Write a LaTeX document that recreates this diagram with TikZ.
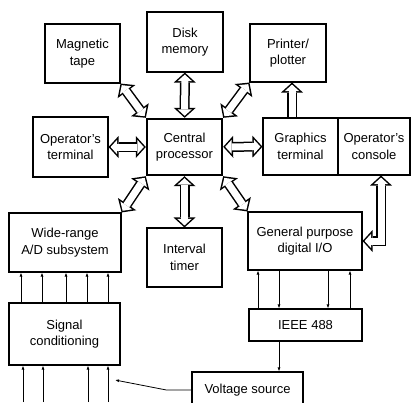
\documentclass[tikz,border=0pt]{standalone}
\usepackage{fontspec}
\setmainfont{Liberation Sans}
\usetikzlibrary{arrows.meta}

\begin{document}
\begin{tikzpicture}[x=1pt, y=-1pt,
    every node/.style={draw, line width=1.1pt, align=center, inner sep=1pt,
      font=\fontsize{13}{16.5}\selectfont},
    bushead/.tip={Triangle[length=10pt, width=22pt, line width=0pt]},
    businner/.tip={Triangle[length=6.5pt, width=14.2pt, line width=0pt]},
    bus/.style={line width=10pt, {bushead}-{bushead},
      postaction={draw=white, line width=7pt, {businner}-{businner},
        shorten <=2pt, shorten >=2pt}},
    busup/.style={line width=10pt, {bushead}-,
      postaction={draw=white, line width=7pt, {businner}-, shorten <=2pt}},
    wire/.style={line width=0.8pt, -{Latex[length=4pt, width=3pt]}}]
    \useasboundingbox (0,0) rectangle (411,402);
    \clip (0,0) rectangle (411,402);
    \node[minimum width=75pt, minimum height=59pt] (tape) at (82.5,53.5) {Magnetic\\tape};
    \node[minimum width=76pt, minimum height=60pt] (disk) at (185,42) {Disk\\memory};
    \node[minimum width=76pt, minimum height=58pt] (printer) at (288,53) {Printer/\\plotter};
    \node[minimum width=75pt, minimum height=60pt] (opterm) at (70.5,147) {Operator's\\terminal};
    \node[minimum width=75pt, minimum height=56pt, line width=2.4pt] (cpu) at (184.5,147) {Central\\processor};
    \node[minimum width=75pt, minimum height=57pt] (graph) at (300.5,146.5) {Graphics\\terminal};
    \node[minimum width=72pt, minimum height=57pt] (console) at (374,146.5) {Operator's\\console};
    \node[minimum width=112pt, minimum height=59pt] (adc) at (65,242.5) {Wide-range\\A/D subsystem};
    \node[minimum width=75pt, minimum height=59pt] (timer) at (184.5,257.5) {Interval\\timer};
    \node[minimum width=111pt, minimum height=62pt] (sigcond) at (64.5,334) {Signal\\conditioning};
    \node[minimum width=114pt, minimum height=58pt] (gpio) at (305,241) {General purpose\\digital I/O};
    \node[minimum width=113pt, minimum height=32pt] (ieee) at (305.5,325) {IEEE 488};
    \node[minimum width=111pt, minimum height=36pt] (vsrc) at (247.5,390) {Voltage source};
    \coordinate (bottom) at (0,402);
    \coordinate (vin) at (115,380);

    % buses to the processor
    \draw[bus] (tape.south east) -- (cpu.north west);
    \draw[bus] (disk) -- (cpu);
    \draw[bus] (printer.south west) -- (cpu.north east);
    \draw[bus] (opterm) -- (cpu);
    \draw[bus] (cpu) -- (graph);
    \draw[bus] (adc.north east) -- (cpu.south west);
    \draw[bus] (gpio.north west) -- (cpu.south east);
    \draw[bus] (cpu) -- (timer);
    \draw[busup] (292,0 |- printer.south) -- (292,0 |- graph.north);
    \draw[bus] ([xshift=7pt]console.south) |- (gpio.east);

    % signal lines
    \foreach \x in {21,42,66,87,108}
      \draw[wire] (\x,0 |- sigcond.north) -- (\x,0 |- adc.south);
    \foreach \x in {23,43,88,108}
      \draw[wire] (\x,0 |- bottom) -- (\x,0 |- sigcond.south);
    \foreach \x in {258,350}
      \draw[wire] (\x,0 |- ieee.north) -- (\x,0 |- gpio.south);
    \foreach \x in {279,328}
      \draw[wire] (\x,0 |- gpio.south) -- (\x,0 |- ieee.north);
    \draw[wire] (279,0 |- ieee.south) -- (279,0 |- vsrc.north);
    \draw[wire] (vsrc.west) -- ++(-25,0) -- (vin);
\end{tikzpicture}
\end{document}
